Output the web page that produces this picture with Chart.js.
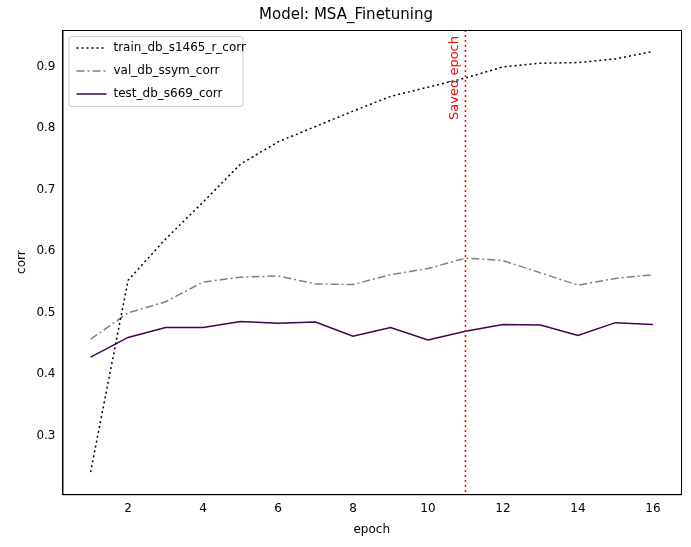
<!DOCTYPE html>
<html>
<head>
<script src="https://cdn.jsdelivr.net/npm/chart.js@4"></script>
<style>body{margin:0;background:#fff}#wrap{width:691px;height:547px}</style>
</head>
<body>
<div id="wrap"><canvas id="c"></canvas></div>
<script>
const epochs = [1,2,3,4,5,6,7,8,9,10,11,12,13,14,15,16];
const train = [0.241,0.553,0.62,0.68,0.742,0.778,0.803,0.828,0.852,0.867,0.882,0.9,0.906,0.907,0.913,0.925];
const val = [0.457,0.5,0.518,0.55,0.558,0.56,0.547,0.546,0.562,0.572,0.589,0.585,0.565,0.545,0.556,0.562];
const test = [0.428,0.46,0.476,0.476,0.486,0.483,0.485,0.462,0.476,0.456,0.47,0.481,0.48,0.463,0.484,0.481];
const savedEpoch = 11;

const pts = arr => arr.map((v, i) => ({x: epochs[i], y: v}));

// dotted red marker, frame and legend box drawn on top of the datasets
const extras = {
  id: 'extras',
  afterDatasetsDraw(chart) {
    const {ctx, chartArea, scales} = chart;
    const x = scales.x.getPixelForValue(savedEpoch);
    ctx.save();
    ctx.strokeStyle = 'red';
    ctx.lineWidth = 1.5;
    ctx.setLineDash([2, 3]);
    ctx.beginPath();
    ctx.moveTo(x, chartArea.top);
    ctx.lineTo(x, chartArea.bottom);
    ctx.stroke();
    ctx.setLineDash([]);
    ctx.save();
    ctx.translate(x - 4, chartArea.top + 6);
    ctx.rotate(-Math.PI / 2);
    ctx.fillStyle = 'red';
    ctx.font = '13px "DejaVu Sans"';
    ctx.textAlign = 'right';
    ctx.textBaseline = 'bottom';
    ctx.fillText('Saved epoch', 0, 0);
    ctx.restore();

    ctx.strokeStyle = '#000';
    ctx.lineWidth = 1;
    ctx.strokeRect(chartArea.left + 0.5, chartArea.top + 0.5, chartArea.right - chartArea.left, chartArea.bottom - chartArea.top);

    // legend
    const lx = chartArea.left + 6, ly = chartArea.top + 6;
    ctx.fillStyle = 'rgba(255,255,255,0.8)';
    ctx.strokeStyle = '#ccc';
    ctx.beginPath();
    ctx.roundRect(lx + 0.5, ly + 0.5, 174, 70, 3);
    ctx.fill();
    ctx.stroke();
    ctx.font = '12px "DejaVu Sans"';
    ctx.textBaseline = 'middle';
    chart.data.datasets.forEach((ds, i) => {
      const y = ly + 12 + i * 23;
      ctx.strokeStyle = ds.borderColor;
      ctx.lineWidth = 1.5;
      ctx.setLineDash(ds.borderDash || []);
      ctx.beginPath();
      ctx.moveTo(lx + 8, y);
      ctx.lineTo(lx + 38, y);
      ctx.stroke();
      ctx.setLineDash([]);
      ctx.fillStyle = '#000';
      ctx.fillText(ds.label, lx + 45, y);
    });
    ctx.restore();
  }
};

new Chart(document.getElementById('c'), {
  type: 'line',
  data: {
    datasets: [
      {label: 'train_db_s1465_r_corr', data: pts(train), borderColor: '#000', borderDash: [2, 3], borderWidth: 1.5},
      {label: 'val_db_ssym_corr', data: pts(val), borderColor: '#808080', borderDash: [8, 3, 2, 3], borderWidth: 1.5},
      {label: 'test_db_s669_corr', data: pts(test), borderColor: '#440154', borderWidth: 1.5}
    ]
  },
  options: {
    responsive: true,
    maintainAspectRatio: false,
    animation: false,
    elements: {point: {radius: 0}, line: {tension: 0}},
    layout: {padding: {left: 11, right: 10, top: 4, bottom: 6}},
    plugins: {
      title: {display: true, text: 'Model: MSA_Finetuning', color: '#000', font: {family: 'DejaVu Sans', size: 15, weight: 'normal'}, padding: {top: 2, bottom: 6}},
      legend: {display: false},
      tooltip: {enabled: false}
    },
    scales: {
      x: {
        type: 'linear', min: 0.25, max: 16.75,
        grid: {display: false, drawTicks: true, tickLength: 4, tickColor: '#000'},
        border: {color: '#000'},
        ticks: {color: '#000', font: {family: 'DejaVu Sans', size: 12}},
        afterBuildTicks: s => { s.ticks = [2,4,6,8,10,12,14,16].map(v => ({value: v})); },
        title: {display: true, text: 'epoch', color: '#000', font: {family: 'DejaVu Sans', size: 12}}
      },
      y: {
        min: 0.205, max: 0.96,
        grid: {display: false, drawTicks: true, tickLength: 4, tickColor: '#000'},
        border: {color: '#000'},
        afterBuildTicks: s => { s.ticks = [0.3,0.4,0.5,0.6,0.7,0.8,0.9].map(v => ({value: v})); },
        ticks: {callback: v => v.toFixed(1), color: '#000', font: {family: 'DejaVu Sans', size: 12}},
        title: {display: true, text: 'corr', color: '#000', font: {family: 'DejaVu Sans', size: 12}}
      }
    }
  },
  plugins: [extras]
});
</script>
</body>
</html>
